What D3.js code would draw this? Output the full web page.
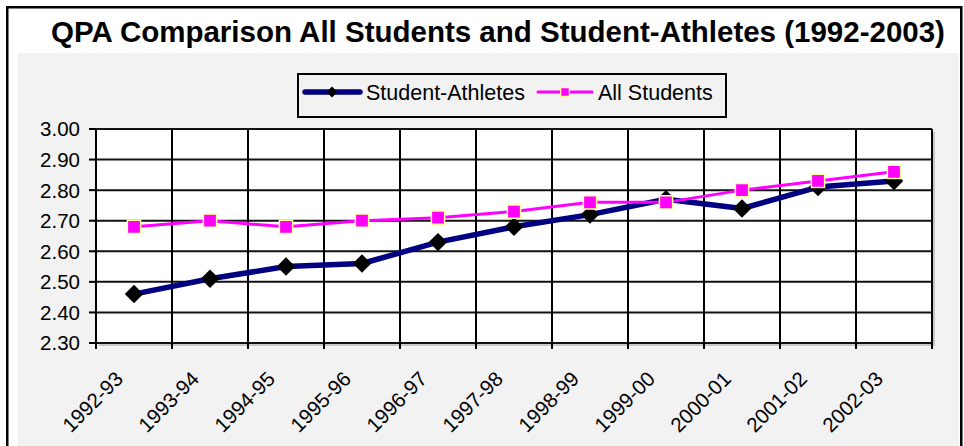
<!DOCTYPE html>
<html><head><meta charset="utf-8">
<script src="https://cdn.jsdelivr.net/npm/d3@7"></script>
<style>body{margin:0;background:#fff}svg{display:block}text{font-family:Arial,"Liberation Sans",sans-serif}</style>
</head><body>
<svg id="c" width="964" height="446"></svg>
<script>
const categories = ["1992-93","1993-94","1994-95","1995-96","1996-97","1997-98","1998-99","1999-00","2000-01","2001-02","2002-03"];
const athletes = [2.46,2.51,2.55,2.56,2.63,2.68,2.72,2.77,2.74,2.81,2.83];
const allStudents = [2.68,2.70,2.68,2.70,2.71,2.73,2.76,2.76,2.80,2.83,2.86];
const yTicks = [2.30,2.40,2.50,2.60,2.70,2.80,2.90,3.00];
const title = "QPA Comparison All Students and Student-Athletes (1992-2003)";
const seriesNames = ["Student-Athletes","All Students"];

const svg = d3.select("#c");
const L=96,R=932,T=129,B=343;
const x = d3.scaleBand().domain(categories).range([L,R]);
const y = d3.scaleLinear().domain([2.30,3.00]).range([B,T]);

// backgrounds
svg.append("rect").attr("x",0).attr("y",0).attr("width",964).attr("height",446).attr("fill","#fff");
svg.append("rect").attr("x",18).attr("y",53).attr("width",941).attr("height",400).attr("fill","#f2f2f2");
svg.append("rect").attr("x",7.25).attr("y",7.25).attr("width",954).attr("height",460).attr("fill","none").attr("stroke","#000").attr("stroke-width",2.5);

svg.append("text").attr("x",498).attr("y",42).attr("text-anchor","middle")
  .attr("font-weight","bold").attr("font-size",29.5).attr("fill","#000").text(title);

// plot area shadow + fill
svg.append("rect").attr("x",L+3).attr("y",T+3).attr("width",R-L).attr("height",B-T).attr("fill","#c8c8c8");
svg.append("rect").attr("x",L).attr("y",T).attr("width",R-L).attr("height",B-T).attr("fill","#fff");

const g = svg.append("g");
g.selectAll(".hg").data(yTicks).join("line")
  .attr("x1",L).attr("x2",R).attr("y1",d=>y(d)).attr("y2",d=>y(d))
  .attr("stroke","#111").attr("stroke-width",2);
const bounds = categories.map(c=>x(c)).concat([x(categories[categories.length-1])+x.bandwidth()]);
g.selectAll(".vg").data(bounds).join("line")
  .attr("x1",d=>d).attr("x2",d=>d).attr("y1",T).attr("y2",B+6)
  .attr("stroke","#000").attr("stroke-width",2);
g.selectAll(".yt").data(yTicks).join("line")
  .attr("x1",L-7).attr("x2",L).attr("y1",d=>y(d)).attr("y2",d=>y(d))
  .attr("stroke","#000").attr("stroke-width",2);
g.selectAll(".yl").data(yTicks).join("text")
  .attr("x",80).attr("y",d=>y(d)).attr("dy","0.36em").attr("text-anchor","end")
  .attr("font-size",20.5).attr("fill","#000").text(d=>d3.format(".2f")(d));
g.selectAll(".xl").data(categories).join("text")
  .attr("transform",d=>`translate(${x(d)+x.bandwidth()/2-15},375) rotate(-45)`)
  .attr("dy","0.36em").attr("text-anchor","end")
  .attr("font-size",20.5).attr("fill","#000").text(d=>d);

const cx = d=>x(d)+x.bandwidth()/2;
const line = d3.line().x(d=>cx(d.c)).y(d=>y(d.v));
const dA = categories.map((c,i)=>({c,v:athletes[i]}));
const dS = categories.map((c,i)=>({c,v:allStudents[i]}));

svg.append("path").datum(dA).attr("d",line).attr("fill","none").attr("stroke","#000080").attr("stroke-width",5.5).attr("stroke-linejoin","round");
svg.selectAll(".dia").data(dA).join("path")
  .attr("d",d3.symbol(d3.symbolSquare,170))
  .attr("transform",d=>`translate(${cx(d.c)},${y(d.v)}) rotate(45)`).attr("fill","#000");

svg.append("path").datum(dS).attr("d",line).attr("fill","none").attr("stroke","#ff00ff").attr("stroke-width",3);
svg.selectAll(".sq").data(dS).join("path")
  .attr("d",d3.symbol(d3.symbolSquare,175))
  .attr("transform",d=>`translate(${cx(d.c)},${y(d.v)})`).attr("fill","#ff00ff").attr("stroke","#ffff99").attr("stroke-width",1.5);

// legend
const lg = svg.append("g");
lg.append("rect").attr("x",298).attr("y",74).attr("width",428).attr("height",43).attr("fill","#f2f2f2").attr("stroke","#000").attr("stroke-width",2);
lg.append("line").attr("x1",305).attr("x2",360).attr("y1",92).attr("y2",92).attr("stroke","#000080").attr("stroke-width",5.5).attr("stroke-linecap","round");
lg.append("path").attr("d",d3.symbol(d3.symbolSquare,60)).attr("transform","translate(332,92) rotate(45)").attr("fill","#000");
lg.append("text").attr("x",366).attr("y",92).attr("dy","0.36em").attr("font-size",21.5).attr("fill","#000").text(seriesNames[0]);
lg.append("line").attr("x1",538).attr("x2",592).attr("y1",92).attr("y2",92).attr("stroke","#ff00ff").attr("stroke-width",3).attr("stroke-linecap","round");
lg.append("path").attr("d",d3.symbol(d3.symbolSquare,75)).attr("transform","translate(565,92)").attr("fill","#ff00ff").attr("stroke","#ffff99").attr("stroke-width",1.2);
lg.append("text").attr("x",598).attr("y",92).attr("dy","0.36em").attr("font-size",21.5).attr("fill","#000").text(seriesNames[1]);
</script>
</body></html>
